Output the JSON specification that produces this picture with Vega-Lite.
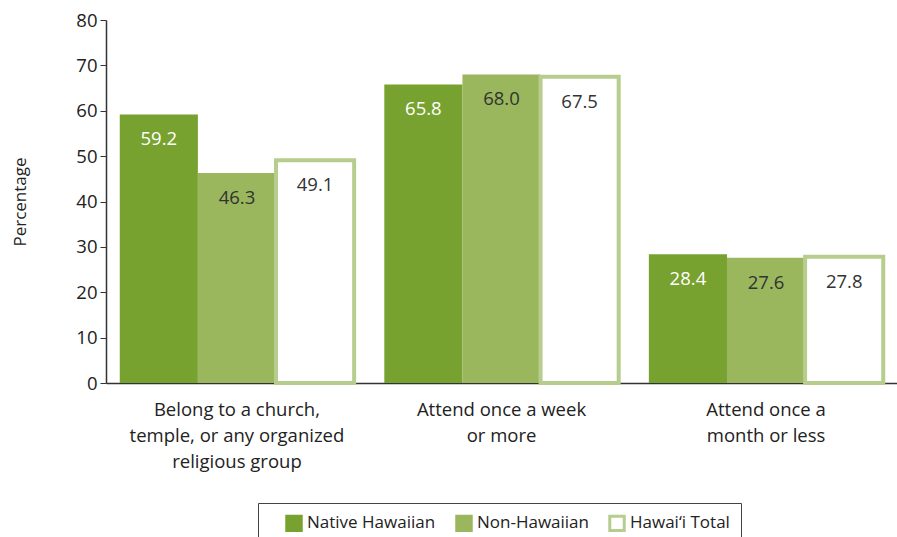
{
  "$schema": "https://vega.github.io/schema/vega-lite/v6.json",
  "width": 791,
  "height": 363,
  "autosize": {"type": "none"},
  "padding": {"left": 106, "top": 20, "right": 0, "bottom": 154},
  "background": "white",
  "config": {
    "view": {"stroke": null},
    "font": "Open Sans"
  },
  "data": {
    "values": [
      {"q": "Belong to a church,|temple, or any organized|religious group", "group": "Native Hawaiian", "value": 59.2},
      {"q": "Belong to a church,|temple, or any organized|religious group", "group": "Non-Hawaiian", "value": 46.3},
      {"q": "Belong to a church,|temple, or any organized|religious group", "group": "Hawai‘i Total", "value": 49.1},
      {"q": "Attend once a week|or more", "group": "Native Hawaiian", "value": 65.8},
      {"q": "Attend once a week|or more", "group": "Non-Hawaiian", "value": 68.0},
      {"q": "Attend once a week|or more", "group": "Hawai‘i Total", "value": 67.5},
      {"q": "Attend once a|month or less", "group": "Native Hawaiian", "value": 28.4},
      {"q": "Attend once a|month or less", "group": "Non-Hawaiian", "value": 27.6},
      {"q": "Attend once a|month or less", "group": "Hawai‘i Total", "value": 27.8}
    ]
  },
  "encoding": {
    "x": {
      "field": "q", "type": "nominal", "sort": null,
      "scale": {"paddingInner": 0.114, "paddingOuter": 0.052},
      "axis": {
        "title": null, "labelAngle": 0, "ticks": false,
        "labelExpr": "split(datum.label, '|')", "labelLimit": 400,
        "labelFontSize": 18.5, "labelColor": "#222", "labelLineHeight": 26,
        "labelPadding": 17, "domainColor": "#333", "domainWidth": 1.5
      }
    },
    "xOffset": {
      "field": "group", "type": "nominal",
      "sort": ["Native Hawaiian", "Non-Hawaiian", "Hawai‘i Total"],
      "scale": {"paddingInner": 0, "paddingOuter": 0}
    },
    "y": {
      "field": "value", "type": "quantitative",
      "scale": {"domain": [0, 80]},
      "axis": {
        "title": "Percentage", "titleFontSize": 17, "titleFontWeight": "normal",
        "titleColor": "#222", "titlePadding": 46,
        "values": [0, 10, 20, 30, 40, 50, 60, 70, 80], "grid": false,
        "tickSize": 6, "tickColor": "#333", "domainColor": "#333", "domainWidth": 1.5,
        "labelFontSize": 18.5, "labelColor": "#222", "labelPadding": 3
      }
    }
  },
  "layer": [
    {
      "mark": {"type": "bar"},
      "encoding": {
        "fill": {
          "field": "group", "type": "nominal",
          "sort": ["Native Hawaiian", "Non-Hawaiian", "Hawai‘i Total"],
          "scale": {"domain": ["Native Hawaiian", "Non-Hawaiian", "Hawai‘i Total"], "range": ["#78a22f", "#9ab75d", "#ffffff"]},
          "legend": {
            "title": " ", "titleOrient": "left", "titlePadding": 16, "titleFontSize": 16,
            "orient": "none", "direction": "horizontal",
            "legendX": 152, "legendY": 483,
            "strokeColor": "#444", "padding": 11,
            "symbolType": "square", "symbolSize": 210, "symbolStrokeWidth": 3,
            "labelFontSize": 17, "labelColor": "#222", "labelOffset": 4,
            "columnPadding": 14
          }
        },
        "stroke": {
          "field": "group", "type": "nominal",
          "sort": ["Native Hawaiian", "Non-Hawaiian", "Hawai‘i Total"],
          "scale": {"domain": ["Native Hawaiian", "Non-Hawaiian", "Hawai‘i Total"], "range": ["#78a22f", "#9ab75d", "#b6cd8e"]},
          "legend": {
            "title": " ", "titleOrient": "left", "titlePadding": 16, "titleFontSize": 16,
            "orient": "none", "direction": "horizontal",
            "legendX": 152, "legendY": 483,
            "strokeColor": "#444", "padding": 11,
            "symbolType": "square", "symbolSize": 210, "symbolStrokeWidth": 3,
            "labelFontSize": 17, "labelColor": "#222", "labelOffset": 4,
            "columnPadding": 14
          }
        },
        "strokeWidth": {
          "condition": {"test": "datum.group === 'Hawai‘i Total'", "value": 4},
          "value": 0
        }
      }
    },
    {
      "mark": {"type": "text", "baseline": "middle", "dy": 25, "fontSize": 18.5},
      "encoding": {
        "text": {"field": "value", "type": "quantitative", "format": ".1f"},
        "color": {
          "condition": {"test": "datum.group === 'Native Hawaiian'", "value": "#ffffff"},
          "value": "#333333"
        }
      }
    }
  ]
}
